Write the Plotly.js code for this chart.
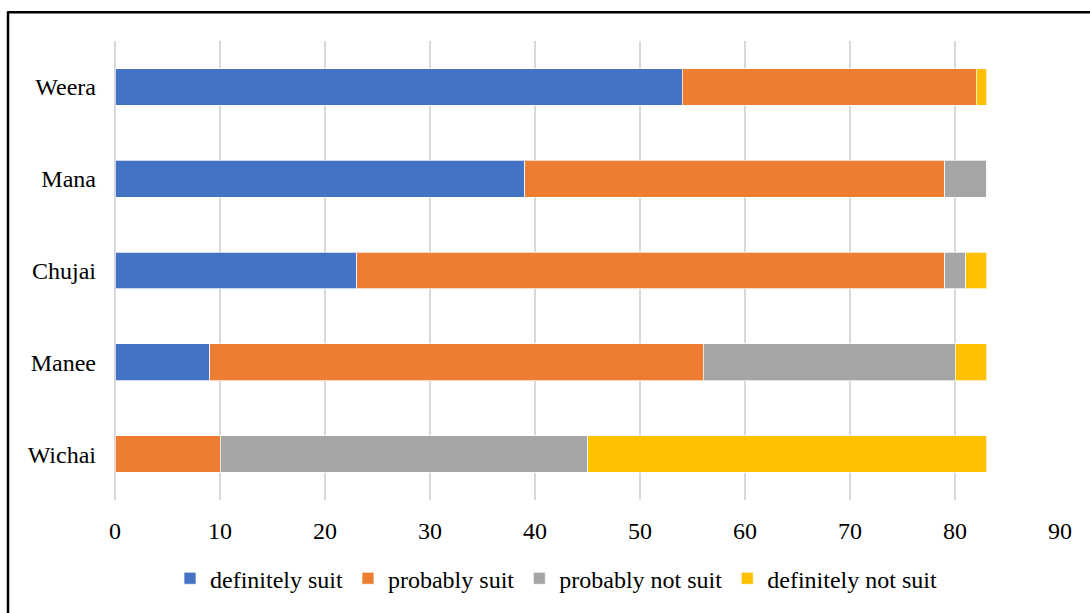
<!DOCTYPE html>
<html>
<head>
<meta charset="utf-8">
<script src="https://cdn.plot.ly/plotly-3.0.1.min.js"></script>
<style>
html,body{margin:0;padding:0;background:#fff;}
#chart{width:1090px;height:613px;}
</style>
</head>
<body>
<div id="chart"></div>
<script>
const categories = ["Weera", "Mana", "Chujai", "Manee", "Wichai"];
const seriesNames = ["definitely suit", "probably suit", "probably not suit", "definitely not suit"];
const definitelySuit    = [54, 39, 23, 9, 0];
const probablySuit      = [28, 40, 56, 47, 10];
const probablyNotSuit   = [0, 4, 2, 24, 35];
const definitelyNotSuit = [1, 0, 2, 3, 38];
const colors = ["#4472C4", "#ED7D31", "#A5A5A5", "#FFC000"];
const xTicks = [0, 10, 20, 30, 40, 50, 60, 70, 80, 90];

const allSeries = [definitelySuit, probablySuit, probablyNotSuit, definitelyNotSuit];
const traces = allSeries.map((vals, i) => ({
  type: "bar",
  orientation: "h",
  name: seriesNames[i],
  y: categories,
  x: vals,
  marker: { color: colors[i], line: { color: "rgba(255,255,255,0.7)", width: 1 } },
  hoverinfo: "x+y+name"
}));

const font = { family: "'Times New Roman', 'Liberation Serif', 'DejaVu Serif', serif", size: 24, color: "#000" };

const L = 115, R = 30, T = 41, B = 111;
const W = 1090, H = 613;
const pw = W - L - R, ph = H - T - B;
const px2x = p => (p - L) / pw;
const py2y = p => (H - B - p) / ph;

const layout = {
  width: W, height: H,
  margin: { l: L, r: R, t: T, b: B, pad: 0 },
  paper_bgcolor: "#fff",
  plot_bgcolor: "#fff",
  barmode: "stack",
  bargap: 0.6,
  font: font,
  showlegend: true,
  legend: {
    orientation: "h",
    x: px2x(170), xanchor: "left",
    y: py2y(581), yanchor: "middle",
    font: font,
    traceorder: "normal",
    bgcolor: "rgba(0,0,0,0)"
  },
  xaxis: {
    range: [0, 90],
    tickvals: xTicks,
    ticktext: xTicks.map(String),
    showgrid: true,
    gridcolor: "#D9D9D9",
    gridwidth: 2,
    zeroline: true,
    zerolinecolor: "#D9D9D9",
    zerolinewidth: 2,
    showline: false,
    ticks: "",
    ticklabelstandoff: 14,
    tickfont: font,
    fixedrange: true
  },
  yaxis: {
    type: "category",
    categoryorder: "array",
    categoryarray: categories,
    autorange: "reversed",
    showgrid: false,
    zeroline: false,
    showline: false,
    ticks: "",
    ticklabelstandoff: 18,
    tickfont: font,
    fixedrange: true
  },
  shapes: [
    { type: "line", xref: "paper", yref: "paper", x0: px2x(8), x1: px2x(1095), y0: py2y(12), y1: py2y(12), line: { color: "#000", width: 2.5 } },
    { type: "line", xref: "paper", yref: "paper", x0: px2x(8), x1: px2x(8), y0: py2y(11), y1: py2y(620), line: { color: "#000", width: 2.5 } }
  ]
};

Plotly.newPlot("chart", traces, layout, { displayModeBar: false, staticPlot: true });
</script>
</body>
</html>
